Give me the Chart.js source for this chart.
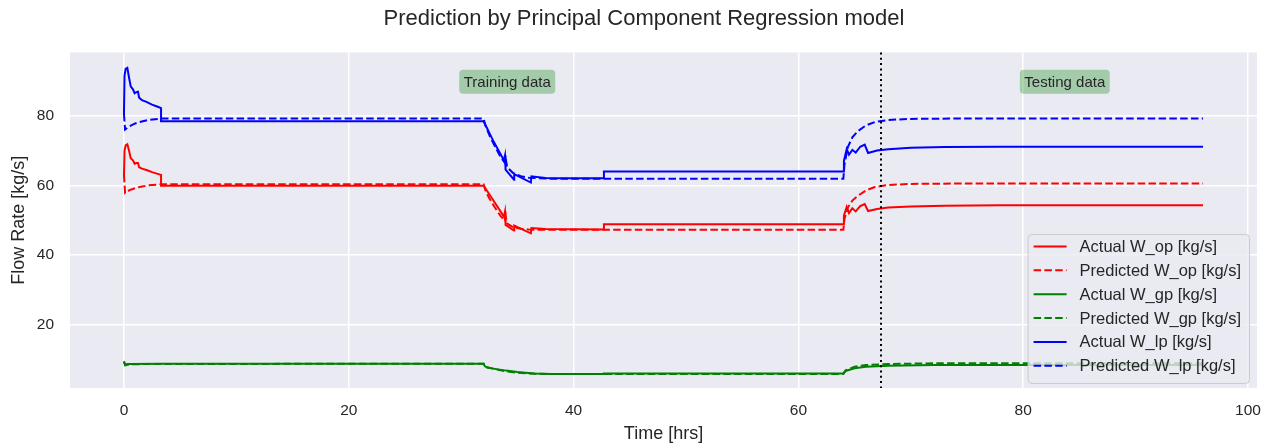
<!DOCTYPE html>
<html>
<head>
<meta charset="utf-8">
<script src="https://cdn.jsdelivr.net/npm/chart.js@4.4.1/dist/chart.umd.min.js"></script>
<style>
  html, body { margin: 0; padding: 0; background: #ffffff; }
  #wrap { width: 1277px; height: 448px; }
</style>
</head>
<body>
<div id="wrap"><canvas id="c" width="1277" height="448"></canvas></div>
<script>
// Flow-rate series, [time in hrs, flow in kg/s]
const actualOp = [
  [0, 62.5], [0.05, 70.0], [0.15, 71.5], [0.3, 71.8], [0.45, 70.0], [0.6, 67.8], [0.8, 67.2],
  [0.95, 66.2], [1.1, 66.4], [1.25, 66.4], [1.35, 65.2], [1.6, 64.8], [2.0, 64.4], [2.5, 63.8],
  [3.0, 63.3], [3.3, 63.0], [3.3, 59.9], [32.0, 59.9], [32.9, 55.5], [33.8, 51.0], [33.9, 52.5],
  [33.95, 48.6], [34.7, 47.0], [34.72, 48.4], [36.2, 46.2], [36.25, 47.7], [37.5, 47.4],
  [42.7, 47.3], [42.7, 48.8], [64.0, 48.8], [64.05, 51.3], [64.3, 53.8], [64.5, 52.0],
  [64.8, 53.4], [65.1, 52.5], [65.5, 54.0], [65.9, 54.6], [66.2, 52.6], [67, 53.2], [68, 53.6],
  [70, 53.9], [73, 54.1], [78, 54.3], [96, 54.3]
];
const predictedOp = [
  [0, 63.0], [0.1, 57.8], [0.5, 58.6], [1, 59.2], [1.5, 59.6], [2.2, 60.0], [3.3, 60.3],
  [32, 60.3], [32.15, 58.6], [32.5, 56.3], [33, 53.6], [33.5, 51.2], [33.9, 49.7], [33.95, 51.0],
  [34.1, 49.0], [34.6, 48.0], [35.3, 47.5], [36, 47.3], [37, 47.2], [64, 47.2], [64.1, 50.3],
  [64.4, 53.6], [64.8, 55.6], [65.3, 57.0], [66, 58.5], [66.8, 59.5], [68, 60.1], [70, 60.4],
  [74, 60.5], [96, 60.5]
];
const actualGp = [
  [0, 9.4], [0.1, 8.5], [0.4, 8.6], [3.3, 8.7], [32, 8.7], [32.1, 8.0], [32.3, 7.6], [33, 7.2],
  [34, 6.7], [35, 6.3], [36.5, 5.9], [38, 5.7], [42.7, 5.7], [42.7, 5.9], [64, 5.9], [64.2, 6.6],
  [65, 7.4], [66, 7.8], [68, 8.1], [72, 8.3], [96, 8.3]
];
const predictedGp = [
  [0, 9.2], [0.1, 8.2], [0.5, 8.5], [2, 8.6], [32, 8.7], [32.1, 7.8], [32.4, 7.6], [33, 7.1],
  [34, 6.5], [35, 6.1], [36.5, 5.8], [38, 5.7], [64, 5.7], [64.2, 6.8], [65, 7.8], [66, 8.3],
  [68, 8.6], [72, 8.8], [96, 8.8]
];
const actualLp = [
  [0, 80.5], [0.05, 91.5], [0.15, 93.5], [0.3, 93.8], [0.45, 91.0], [0.6, 88.5], [0.8, 87.6],
  [0.95, 86.5], [1.1, 86.8], [1.25, 86.9], [1.35, 85.2], [1.6, 84.5], [2.0, 84.0], [2.5, 83.2],
  [3.0, 82.6], [3.3, 82.2], [3.3, 78.4], [32.0, 78.4], [32.9, 72.5], [33.8, 67.2], [33.9, 68.6],
  [33.95, 64.5], [34.7, 61.6], [34.72, 63.2], [36.2, 60.8], [36.25, 62.6], [37.5, 62.1],
  [39, 62.0], [42.7, 62.0], [42.7, 64.0], [64.0, 64.0], [64.05, 67.0], [64.3, 70.4],
  [64.5, 68.8], [64.8, 70.2], [65.1, 69.4], [65.5, 71.1], [65.9, 71.7], [66.2, 69.3],
  [67, 70.0], [68, 70.4], [70, 70.8], [73, 71.0], [78, 71.1], [96, 71.1]
];
const predictedLp = [
  [0, 80.5], [0.1, 76.0], [0.5, 77.0], [1, 77.8], [1.5, 78.3], [2.2, 78.8], [3.3, 79.2],
  [32, 79.2], [32.15, 77.2], [32.5, 74.5], [33, 71.2], [33.5, 68.2], [33.9, 66.4], [33.95, 67.8],
  [34.1, 65.2], [34.6, 63.6], [35.3, 62.6], [36, 62.2], [37, 62.0], [38, 61.9], [64, 61.9],
  [64.1, 66.0], [64.4, 71.0], [64.8, 73.8], [65.3, 75.6], [66, 77.2], [66.8, 78.2], [68, 78.8],
  [70, 79.1], [74, 79.2], [96, 79.2]
];

const seriesLabels = [
  'Actual W_op [kg/s]', 'Predicted W_op [kg/s]',
  'Actual W_gp [kg/s]', 'Predicted W_gp [kg/s]',
  'Actual W_lp [kg/s]', 'Predicted W_lp [kg/s]'
];
const seriesData = [actualOp, predictedOp, actualGp, predictedGp, actualLp, predictedLp];
const seriesColors = ['#ff0000', '#ff0000', '#008000', '#008000', '#0000ff', '#0000ff'];
const seriesDashed = [false, true, false, true, false, true];

// train / test split and region notes
const splitTime = 67.35;
const noteTexts = ['Training data', 'Testing data'];
const noteTimes = [34.1, 83.7];
const noteLevel = 89.8;

const titleText = 'Prediction by Principal Component Regression model';
const xTicks = [0, 20, 40, 60, 80, 100];
const yTicks = [20, 40, 60, 80];

const FONT = "'Liberation Sans', Arial, Helvetica, sans-serif";
const TEXT = '#262626';
const DASH = [7.5, 3.3];

Chart.defaults.font.family = FONT;
Chart.defaults.color = TEXT;

function roundRect(ctx, x, y, w, h, r) {
  ctx.beginPath();
  ctx.moveTo(x + r, y);
  ctx.lineTo(x + w - r, y);
  ctx.arcTo(x + w, y, x + w, y + r, r);
  ctx.lineTo(x + w, y + h - r);
  ctx.arcTo(x + w, y + h, x + w - r, y + h, r);
  ctx.lineTo(x + r, y + h);
  ctx.arcTo(x, y + h, x, y + h - r, r);
  ctx.lineTo(x, y + r);
  ctx.arcTo(x, y, x + r, y, r);
  ctx.closePath();
}

const panelPlugin = {
  id: 'panel',
  beforeDraw(chart) {
    const { ctx, chartArea: a } = chart;
    ctx.save();
    ctx.fillStyle = '#EAEAF2';
    ctx.fillRect(a.left, a.top, a.right - a.left, a.bottom - a.top);
    // figure title, centred on the figure
    ctx.fillStyle = TEXT;
    ctx.font = '22px ' + FONT;
    ctx.textAlign = 'center';
    ctx.textBaseline = 'middle';
    ctx.fillText(titleText, 644, 19);
    ctx.restore();
  },
  afterDatasetsDraw(chart) {
    const { ctx, chartArea: a, scales } = chart;
    const xs = scales.x, ys = scales.y;

    // split marker
    const sx = xs.getPixelForValue(splitTime);
    ctx.save();
    ctx.strokeStyle = '#000000';
    ctx.lineWidth = 2;
    ctx.setLineDash([2, 3.3]);
    ctx.beginPath();
    ctx.moveTo(sx, a.top);
    ctx.lineTo(sx, a.bottom);
    ctx.stroke();
    ctx.restore();

    // region notes
    ctx.save();
    ctx.font = '15px ' + FONT;
    ctx.textAlign = 'center';
    ctx.textBaseline = 'middle';
    noteTexts.forEach((txt, i) => {
      const cx = xs.getPixelForValue(noteTimes[i]);
      const cy = ys.getPixelForValue(noteLevel);
      const w = ctx.measureText(txt).width + 9;
      const h = 24;
      ctx.fillStyle = 'rgba(0,128,0,0.3)';
      roundRect(ctx, cx - w / 2, cy - h / 2, w, h, 4);
      ctx.fill();
      ctx.fillStyle = TEXT;
      ctx.fillText(txt, cx, cy + 1);
    });
    ctx.restore();

    // legend box
    ctx.save();
    ctx.font = '16.5px ' + FONT;
    let maxW = 0;
    chart.data.datasets.forEach(d => { maxW = Math.max(maxW, ctx.measureText(d.label).width); });
    const boxW = 6 + 33 + 13 + maxW + 8;
    const boxH = 149;
    const bx = a.right - 8 - boxW;
    const by = a.bottom - 5 - boxH;
    ctx.fillStyle = 'rgba(234,234,242,0.8)';
    ctx.strokeStyle = '#cccccc';
    ctx.lineWidth = 1;
    roundRect(ctx, bx + 0.5, by + 0.5, boxW, boxH, 4);
    ctx.fill();
    ctx.stroke();
    ctx.textAlign = 'left';
    ctx.textBaseline = 'middle';
    chart.data.datasets.forEach((d, i) => {
      const ry = by + 12.5 + i * 23.85;
      ctx.strokeStyle = d.borderColor;
      ctx.lineWidth = 2;
      ctx.setLineDash(d.borderDash || []);
      ctx.beginPath();
      ctx.moveTo(bx + 6, ry);
      ctx.lineTo(bx + 39, ry);
      ctx.stroke();
      ctx.setLineDash([]);
      ctx.fillStyle = TEXT;
      ctx.fillText(d.label, bx + 52, ry + 1);
    });
    ctx.restore();
  }
};

const datasets = seriesData.map((pts, i) => ({
  label: seriesLabels[i],
  data: pts.map(p => ({ x: p[0], y: p[1] })),
  borderColor: seriesColors[i],
  backgroundColor: seriesColors[i],
  borderWidth: 2,
  borderDash: seriesDashed[i] ? DASH : [],
  pointRadius: 0,
  tension: 0,
  fill: false,
  order: seriesData.length - i
}));

new Chart(document.getElementById('c'), {
  type: 'line',
  data: { datasets },
  options: {
    responsive: false,
    animation: false,
    layout: { padding: { left: 0, right: 20, top: 52.5, bottom: 0 } },
    plugins: {
      legend: { display: false },
      tooltip: { enabled: false },
      title: { display: false }
    },
    scales: {
      x: {
        type: 'linear',
        min: -4.8,
        max: 100.8,
        afterBuildTicks: s => { s.ticks = xTicks.map(v => ({ value: v })); },
        afterFit: s => { s.height = 60; },
        grid: { color: '#ffffff', lineWidth: 1.5, drawTicks: false },
        border: { display: false },
        ticks: { color: TEXT, font: { size: 15.5 }, padding: 13, maxRotation: 0 },
        title: { display: true, text: 'Time [hrs]', color: TEXT, font: { size: 18 }, padding: { top: 0, bottom: 3 } }
      },
      y: {
        type: 'linear',
        min: 1.7,
        max: 98.2,
        afterBuildTicks: s => { s.ticks = yTicks.map(v => ({ value: v })); },
        afterFit: s => { s.width = 70; },
        grid: { color: '#ffffff', lineWidth: 1.5, drawTicks: false },
        border: { display: false },
        ticks: { color: TEXT, font: { size: 15.5 }, padding: 16 },
        title: { display: true, text: 'Flow Rate [kg/s]', color: TEXT, font: { size: 18 }, padding: { top: 8, bottom: 0 } }
      }
    }
  },
  plugins: [panelPlugin]
});
</script>
</body>
</html>
